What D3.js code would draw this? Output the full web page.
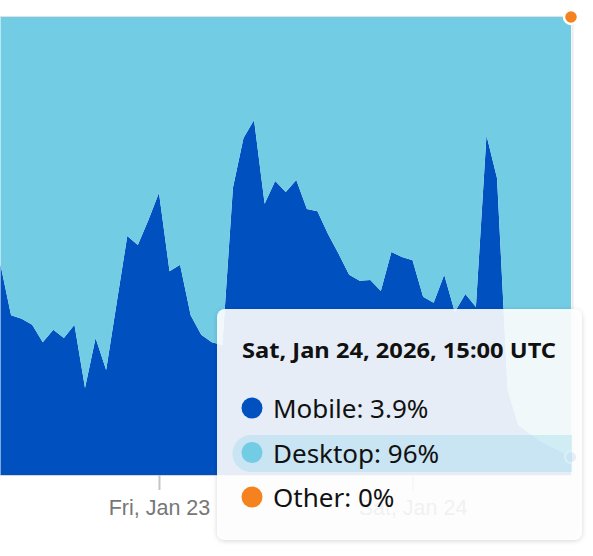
<!DOCTYPE html>
<html><head><meta charset="utf-8">
<script src="https://cdn.jsdelivr.net/npm/d3@7"></script>
<style>
html,body{margin:0;padding:0;background:#fff;}
svg{display:block;}
</style></head>
<body>
<svg id="chart" width="593" height="556"></svg>
<script>
// ---- data ----
const startHourUTC = Date.UTC(2026, 0, 22, 9); // first sample: Thu, Jan 22, 09:00 UTC (hourly samples)
const seriesKeys = ["mobile", "desktop", "other"];
const seriesNames = ["Mobile", "Desktop", "Other"];
const seriesColors = ["#0050BF", "#72CCE4", "#F5821F"];
const mobile = [45.9,34.9,34.1,32.8,29.0,31.7,29.9,32.8,19.0,29.9,22.9,37.6,52.2,50.2,55.7,61.6,44.5,45.9,34.9,30.6,29.0,28.4,62.7,73.6,77.5,59.2,64.2,61.8,64.4,58.1,57.6,52.6,48.3,43.7,42.4,42.6,40.2,48.7,47.6,46.9,38.9,37.6,43.7,35.6,39.5,36.7,74.2,64.8,18.6,10.9,9.2,7.6,6.3,5.2,3.9];
const desktop = [54.1,65.1,65.9,67.2,71.0,68.3,70.1,67.2,81.0,70.1,77.1,62.4,47.8,49.8,44.3,38.4,55.5,54.1,65.1,69.4,71.0,71.6,37.3,26.4,22.5,40.8,35.8,38.2,35.6,41.9,42.4,47.4,51.7,56.3,57.6,57.4,59.8,51.3,52.4,53.1,61.1,62.4,56.3,64.4,60.5,63.3,25.8,35.2,81.4,89.1,90.8,92.4,93.7,94.8,96.1];
const other = [0,0,0,0,0,0,0,0,0,0,0,0,0,0,0,0,0,0,0,0,0,0,0,0,0,0,0,0,0,0,0,0,0,0,0,0,0,0,0,0,0,0,0,0,0,0,0,0,0,0,0,0,0,0,0];
const tickDates = [Date.UTC(2026,0,23), Date.UTC(2026,0,24)];
const tickLabels = ["Fri, Jan 23", "Sat, Jan 24"];
const tooltipTitle = "Sat, Jan 24, 2026, 15:00 UTC";

// ---- build table ----
const rows = mobile.map((m, i) => ({
  t: new Date(startHourUTC + i * 3600e3),
  mobile: m, desktop: desktop[i], other: other[i]
}));

const svg = d3.select("#chart");
const plot = {left: 0.5, right: 571, top: 17, bottom: 475};

const x = d3.scaleUtc()
  .domain(d3.extent(rows, d => d.t))
  .range([plot.left, plot.right]);
const y = d3.scaleLinear().domain([0, 100]).range([plot.bottom, plot.top]);

const layers = d3.stack().keys(seriesKeys)(rows);

const area = d3.area()
  .x(d => x(d.data.t))
  .y0(d => y(d[0]))
  .y1(d => y(d[1]));

// plot frame lines
svg.append("line").attr("x1", 0).attr("x2", plot.right + 1)
  .attr("y1", plot.top - 0.5).attr("y2", plot.top - 0.5)
  .attr("stroke", "#e2e2e2").attr("stroke-width", 1);
svg.append("line").attr("x1", plot.right + 1.5).attr("x2", plot.right + 1.5)
  .attr("y1", plot.top).attr("y2", plot.bottom)
  .attr("stroke", "#ececec").attr("stroke-width", 2);

svg.append("g").selectAll("path").data(layers).join("path")
  .attr("d", area)
  .attr("fill", (d, i) => seriesColors[i]);

// x axis
const xAxis = d3.axisBottom(x)
  .tickValues(tickDates.map(d => new Date(d)))
  .tickFormat((d, i) => tickLabels[i])
  .tickSize(15).tickPadding(10);
const gx = svg.append("g").attr("transform", `translate(0,${plot.bottom})`).call(xAxis);
gx.select(".domain").attr("stroke", "#d6d6d6").attr("d", `M0,0.5H${plot.right + 1}`);
gx.selectAll(".tick line").attr("stroke", "#c4c4c4").attr("stroke-width", 2);
gx.selectAll(".tick text")
  .attr("fill", "#777").attr("font-family", "Liberation Sans, Arial, sans-serif")
  .attr("font-size", 21.5).attr("dy", "0.71em");

// hover markers at last sample
const last = layers.map(l => l[l.length - 1]);
const lx = x(rows[rows.length - 1].t);
svg.append("circle").attr("cx", lx).attr("cy", y(last[0][1])).attr("r", 6)
  .attr("fill", seriesColors[0]).attr("stroke", "#fff").attr("stroke-width", 2);
svg.append("circle").attr("cx", lx).attr("cy", y(last[2][1])).attr("r", 7)
  .attr("fill", seriesColors[2]).attr("stroke", "#fff").attr("stroke-width", 2.5);

// tooltip
const defs = svg.append("defs");
const f = defs.append("filter").attr("id", "sh").attr("x", "-10%").attr("y", "-10%").attr("width", "120%").attr("height", "130%");
f.append("feDropShadow").attr("dx", 0).attr("dy", 1).attr("stdDeviation", 2.5)
  .attr("flood-color", "#000").attr("flood-opacity", 0.18);

const tt = svg.append("g").attr("transform", "translate(217,309)");
tt.append("rect").attr("width", 365).attr("height", 231).attr("rx", 8)
  .attr("fill", "#fff").attr("fill-opacity", 0.89).attr("filter", "url(#sh)");
tt.append("text").attr("x", 25).attr("y", 49)
  .attr("font-family", "Noto Sans, Open Sans, sans-serif").attr("font-weight", 700)
  .attr("font-size", 21.5).attr("fill", "#111")
  .attr("textLength", 314).attr("lengthAdjust", "spacingAndGlyphs")
  .text(tooltipTitle);

// highlight pill for hovered series (Desktop)
tt.append("path")
  .attr("d", "M34,126 H355 V163 H34 A18.5,18.5 0 0 1 34,126 Z")
  .attr("fill", "#72CCE4").attr("fill-opacity", 0.25);

const fmt = d3.format(".2~r");
const vals = [mobile, desktop, other].map(a => a[a.length - 1]);
seriesNames.forEach((n, i) => {
  const cy = 99 + i * 44.5;
  tt.append("circle").attr("cx", 35).attr("cy", cy).attr("r", 10.5).attr("fill", seriesColors[i]);
  tt.append("text").attr("x", 56).attr("y", cy + 10)
    .attr("font-family", "Noto Sans, Open Sans, sans-serif")
    .attr("font-size", 26).attr("fill", "#111")
    .text(`${n}: ${fmt(vals[i])}%`);
});
</script>
</body></html>
